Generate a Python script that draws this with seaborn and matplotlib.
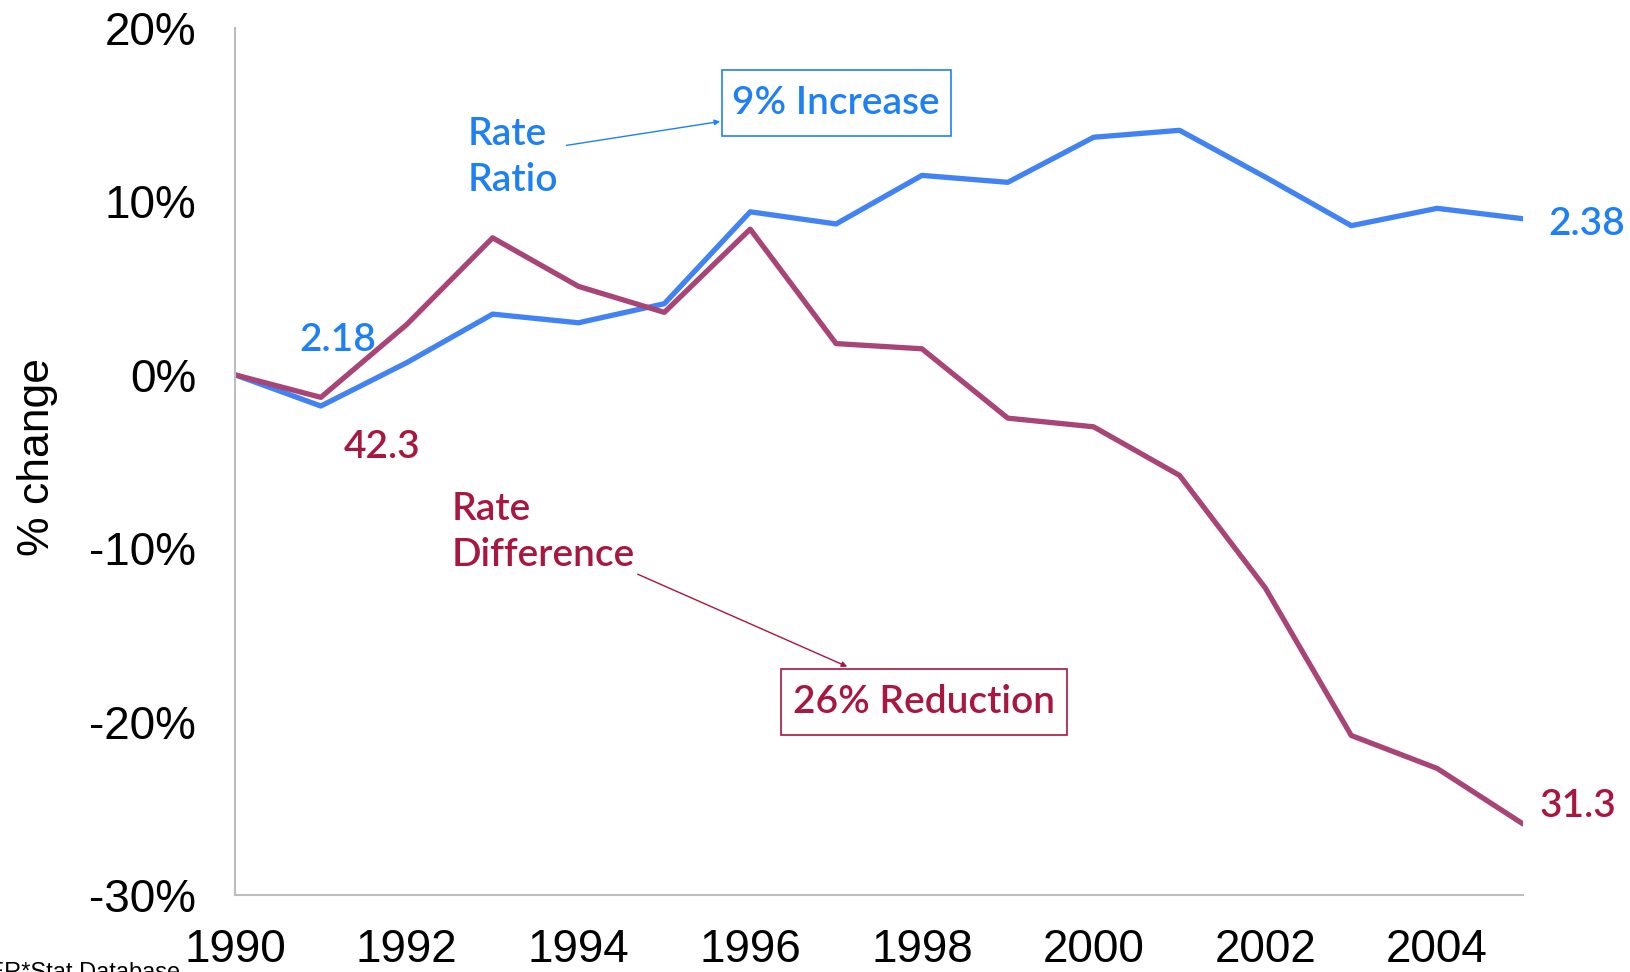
import matplotlib
matplotlib.use("Agg")
import matplotlib.pyplot as plt
import seaborn as sns
import pandas as pd
from matplotlib.patches import Rectangle
from matplotlib.ticker import FuncFormatter

years = list(range(1990, 2006))
rate_ratio = [0.0, -1.8, 0.7, 3.5, 3.0, 4.1, 9.4, 8.7, 11.5, 11.1, 13.7, 14.1, 11.4, 8.6, 9.6, 9.0]
rate_difference = [0.0, -1.3, 2.9, 7.9, 5.1, 3.6, 8.4, 1.8, 1.5, -2.5, -3.0, -5.8, -12.3, -20.8, -22.7, -25.9]
series_names = ["Rate Ratio", "Rate Difference"]
x_ticks = [1990, 1992, 1994, 1996, 1998, 2000, 2002, 2004]
y_ticks = [-30, -20, -10, 0, 10, 20]

BLUE_LINE = "#4182F4"
RED_LINE = "#A84576"
BLUE_TXT = "#1F80F6"
RED_TXT = "#A8173F"

sns.set_style("white")
plt.rcParams["font.family"] = ["Liberation Sans", "DejaVu Sans"]
plt.rcParams["text.color"] = "black"
plt.rcParams["xtick.color"] = "black"
plt.rcParams["ytick.color"] = "black"

df = pd.DataFrame({
    "year": years * 2,
    "change": rate_ratio + rate_difference,
    "series": [series_names[0]] * len(years) + [series_names[1]] * len(years),
})

fig = plt.figure(figsize=(16.30, 9.72), dpi=100)
ax = fig.add_axes([235 / 1630, 77 / 972, (1523 - 235) / 1630, (895 - 28) / 972])

sns.lineplot(data=df, x="year", y="change", hue="series",
             palette={series_names[0]: BLUE_LINE, series_names[1]: RED_LINE},
             linewidth=3.8, legend=False, ax=ax)

ax.set_xlim(1990, 2005)
ax.set_ylim(-30, 20)
ax.set_xticks(x_ticks)
ax.set_yticks(y_ticks)
ax.yaxis.set_major_formatter(FuncFormatter(lambda v, p: f"{int(v)}%"))
ax.tick_params(axis="both", length=0, labelsize=33, labelcolor="black")
ax.tick_params(axis="y", pad=28)
ax.tick_params(axis="x", pad=24)
ax.set_xlabel("")
ax.set_ylabel("")
for s in ["top", "right"]:
    ax.spines[s].set_visible(False)
for s in ["left", "bottom"]:
    ax.spines[s].set_color("#BDBDBD")
    ax.spines[s].set_linewidth(1.5)

fig.text(38 / 1630, 1 - 457 / 972, "% change", rotation=90, fontsize=32,
         ha="center", va="center", color="black")

ann_font = dict(family=["Lato", "DejaVu Sans"], fontsize=28, fontweight="semibold")

ax.text(1992.71, 12.54, "Rate\nRatio", color=BLUE_TXT, ha="left", va="center",
        linespacing=1.34, **ann_font)
ax.text(1992.52, -9.07, "Rate\nDifference", color=RED_TXT, ha="left", va="center",
        linespacing=1.34, **ann_font)
ax.text(1991.20, 1.98, "2.18", color=BLUE_TXT, ha="center", va="center", **ann_font)
ax.text(1991.71, -4.19, "42.3", color=RED_TXT, ha="center", va="center", **ann_font)
ax.text(2005.30, 8.68, "2.38", color=BLUE_TXT, ha="left", va="center", clip_on=False, **ann_font)
ax.text(2005.19, -24.85, "31.3", color=RED_TXT, ha="left", va="center", clip_on=False, **ann_font)

ax.add_patch(Rectangle((1995.67, 13.77), 1998.34 - 1995.67, 17.60 - 13.77,
                       fill=False, edgecolor=BLUE_TXT, linewidth=1.2, zorder=3))
ax.text(1997.00, 15.69, "9% Increase", color=BLUE_TXT, ha="center", va="center", **ann_font)
ax.add_patch(Rectangle((1996.36, -20.78), 1999.69 - 1996.36, -16.95 + 20.78,
                       fill=False, edgecolor=RED_TXT, linewidth=1.2, zorder=3))
ax.text(1998.02, -18.86, "26% Reduction", color=RED_TXT, ha="center", va="center", **ann_font)

ax.annotate("", xy=(1995.65, 14.61), xytext=(1993.86, 13.23),
            arrowprops=dict(arrowstyle="-|>", color=BLUE_TXT, lw=1.0,
                            mutation_scale=8, shrinkA=0, shrinkB=0))
ax.annotate("", xy=(1997.13, -16.83), xytext=(1994.69, -11.50),
            arrowprops=dict(arrowstyle="-|>", color=RED_TXT, lw=1.0,
                            mutation_scale=8, shrinkA=0, shrinkB=0))

fig.text(180 / 1630, 1 - 979 / 972, "SEER*Stat Database", fontsize=17,
         ha="right", va="baseline", color="black")

fig.savefig("out.png", dpi=100)
